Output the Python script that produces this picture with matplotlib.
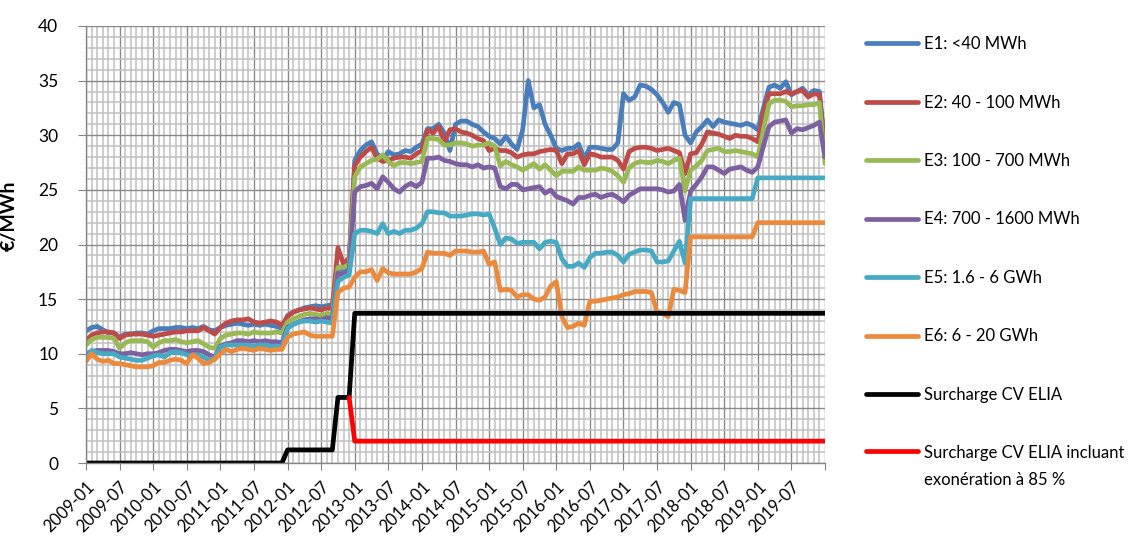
import numpy as np
import matplotlib
matplotlib.use("Agg")
import matplotlib.pyplot as plt
from matplotlib.ticker import MultipleLocator, FixedLocator
from matplotlib.legend_handler import HandlerLine2D

plt.rcParams['font.family'] = ['Lato', 'DejaVu Sans']

# ---- data (monthly, 2009-01 .. 2020-01) ----
tick_labels = ['2009-01', '2009-07', '2010-01', '2010-07', '2011-01', '2011-07',
               '2012-01', '2012-07', '2013-01', '2013-07', '2014-01', '2014-07',
               '2015-01', '2015-07', '2016-01', '2016-07', '2017-01', '2017-07',
               '2018-01', '2018-07', '2019-01', '2019-07', '']

e1 = [12.1, 12.4, 12.5, 12.2, 11.9, 11.9, 11.5, 11.8, 11.8, 11.9, 11.9, 11.8,
      12.1, 12.3, 12.3, 12.3, 12.4, 12.4, 12.3, 12.4, 12.3, 12.5, 12.2, 12.1,
      12.4, 12.6, 12.7, 12.8, 12.7, 12.6, 12.7, 12.6, 12.7, 12.6, 12.5, 12.3,
      13.5, 13.8, 14.0, 14.2, 14.3, 14.4, 14.3, 14.4, 14.5, 18.0, 17.6, 18.3,
      27.7, 28.6, 29.1, 29.4, 28.3, 27.8, 28.5, 28.2, 28.3, 28.6, 28.5, 28.9, 29.2,
      30.6, 30.6, 31.0, 30.2, 28.6, 31.0, 31.3, 31.3, 31.0, 30.8, 30.3, 29.9,
      29.7, 29.2, 29.9, 29.2, 28.7, 30.5, 35.0, 32.5, 32.8, 31.0, 30.0, 28.8,
      28.6, 28.8, 28.8, 29.2, 27.8, 28.9, 28.9, 28.8, 28.7, 28.7, 29.3, 33.8,
      33.2, 33.5, 34.6, 34.5, 34.2, 33.7, 33.0, 32.1, 33.0, 32.8, 30.0, 29.3,
      30.3, 30.8, 31.4, 30.8, 31.4, 31.2, 31.1, 31.0, 30.9, 31.1, 30.9, 30.5,
      32.5, 34.4, 34.6, 34.3, 34.9, 33.7, 34.0, 34.3, 33.7, 34.1, 34.0, 29.0]

e2 = [11.2, 11.7, 11.9, 12.0, 12.0, 11.9, 11.4, 11.7, 11.8, 11.8, 11.8, 11.7,
      11.6, 11.7, 11.8, 11.9, 12.0, 12.0, 12.1, 12.1, 12.1, 12.4, 12.1, 11.8,
      12.4, 12.8, 13.0, 13.1, 13.1, 13.2, 12.9, 12.8, 12.9, 13.0, 12.9, 12.6,
      13.4, 13.8, 14.0, 14.1, 14.2, 14.1, 14.0, 14.2, 14.1, 19.7, 18.2, 18.8,
      27.2, 28.0, 28.5, 28.9, 27.9, 27.6, 27.7, 27.9, 28.0, 28.0, 27.9, 28.3, 28.6,
      30.5, 30.2, 30.8, 29.4, 30.5, 30.6, 30.3, 30.2, 30.0, 29.7, 29.5, 28.6,
      28.8, 28.6, 28.6, 28.4, 28.0, 28.2, 28.3, 28.3, 28.5, 28.6, 28.7, 28.6,
      27.4, 28.3, 28.3, 28.6, 27.3, 28.3, 28.2, 28.0, 28.0, 28.0, 27.7, 26.9,
      28.5, 28.8, 28.9, 28.9, 28.8, 28.6, 28.7, 28.8, 28.6, 28.4, 26.5, 28.3,
      28.4, 29.2, 30.3, 30.2, 30.1, 29.9, 29.7, 30.0, 29.9, 29.9, 29.7, 29.4,
      32.0, 33.8, 33.8, 33.8, 34.0, 33.8, 34.0, 34.1, 33.5, 33.8, 33.7, 28.6]

e3 = [10.8, 11.3, 11.5, 11.5, 11.5, 11.4, 10.5, 11.0, 11.2, 11.2, 11.2, 11.1,
      10.6, 11.0, 11.2, 11.2, 11.3, 11.1, 11.0, 11.1, 11.2, 10.9, 10.6, 10.5,
      11.4, 11.7, 11.8, 11.9, 11.9, 11.8, 12.0, 11.9, 11.9, 11.9, 12.0, 11.9,
      12.9, 13.2, 13.4, 13.6, 13.7, 13.6, 13.5, 13.7, 13.6, 17.9, 17.9, 18.2,
      26.2, 27.1, 27.4, 27.7, 27.8, 28.2, 27.6, 27.2, 27.5, 27.5, 27.4, 27.5, 27.6,
      29.7, 29.7, 29.6, 29.1, 29.1, 29.3, 29.3, 29.2, 29.0, 29.1, 29.1, 29.3,
      29.0, 27.2, 27.6, 27.3, 27.1, 26.8, 27.1, 27.4, 26.9, 27.3, 26.8, 26.3,
      26.7, 26.7, 26.7, 27.1, 26.8, 26.8, 26.8, 27.0, 26.9, 26.7, 26.3, 25.7,
      27.0, 27.4, 27.6, 27.5, 27.5, 27.7, 27.6, 27.4, 27.7, 27.9, 24.9, 26.8,
      27.2, 27.7, 28.6, 28.7, 28.8, 28.5, 28.5, 28.6, 28.5, 28.4, 28.3, 28.0,
      30.5, 32.9, 33.2, 33.2, 33.1, 32.6, 32.7, 32.7, 32.8, 32.8, 33.0, 27.4]

e4 = [10.0, 10.2, 10.3, 10.3, 10.3, 10.2, 10.0, 10.0, 10.1, 10.0, 9.9, 10.0,
      10.0, 10.1, 10.3, 10.4, 10.4, 10.3, 10.2, 10.3, 10.3, 10.2, 9.9, 9.7,
      10.7, 10.9, 11.0, 11.2, 11.2, 11.1, 11.2, 11.1, 11.2, 11.1, 11.1, 11.0,
      12.4, 12.7, 12.9, 13.1, 13.2, 13.2, 13.1, 13.3, 13.2, 17.4, 17.2, 17.6,
      24.8, 25.3, 25.4, 25.6, 25.1, 26.2, 25.7, 25.1, 24.8, 25.3, 25.6, 25.3, 25.7,
      27.9, 27.9, 28.0, 27.7, 27.6, 27.4, 27.3, 27.3, 27.1, 27.3, 27.0, 27.1,
      27.0, 25.3, 25.1, 25.5, 25.5, 25.0, 25.1, 25.2, 25.3, 24.7, 25.0, 24.4,
      24.2, 24.0, 23.7, 24.3, 24.3, 24.5, 24.6, 24.3, 24.5, 24.6, 24.3, 23.9,
      24.5, 24.8, 25.1, 25.1, 25.1, 25.1, 25.0, 24.8, 24.9, 25.5, 22.2, 24.9,
      25.5, 26.2, 27.1, 27.1, 26.8, 26.5, 26.9, 27.0, 27.1, 26.8, 26.6, 27.1,
      29.0, 30.8, 31.2, 31.3, 31.4, 30.2, 30.6, 30.5, 30.7, 30.9, 31.2, 28.0]

e5 = [9.4, 10.3, 10.1, 10.0, 10.0, 10.0, 9.7, 9.6, 9.5, 9.4, 9.4, 9.6,
      9.8, 9.9, 9.7, 10.1, 10.2, 10.1, 9.9, 9.8, 9.9, 9.7, 9.4, 9.6,
      10.6, 10.8, 10.8, 10.8, 10.8, 10.8, 10.7, 10.8, 10.8, 10.7, 10.7, 10.6,
      12.3, 12.7, 12.9, 13.0, 13.0, 12.9, 13.0, 12.9, 12.8, 16.6, 17.0, 17.2,
      21.0, 21.3, 21.3, 21.2, 21.0, 21.9, 21.0, 21.2, 21.0, 21.3, 21.3, 21.5, 21.9,
      23.0, 23.0, 22.9, 22.9, 22.6, 22.6, 22.6, 22.7, 22.8, 22.8, 22.7, 22.8,
      21.5, 20.0, 20.6, 20.5, 20.1, 20.2, 20.2, 20.2, 19.6, 20.2, 20.3, 20.2,
      18.7, 18.0, 18.0, 18.3, 17.9, 18.8, 19.2, 19.2, 19.3, 19.3, 19.0, 18.4,
      19.1, 19.3, 19.5, 19.5, 19.4, 18.4, 18.4, 18.5, 19.4, 20.3, 18.3, 24.2,
      24.2, 24.2, 24.2, 24.2, 24.2, 24.2, 24.2, 24.2, 24.2, 24.2, 24.2, 26.1,
      26.1, 26.1, 26.1, 26.1, 26.1, 26.1, 26.1, 26.1, 26.1, 26.1, 26.1, 26.1]

e6 = [9.3, 10.0, 9.5, 9.3, 9.4, 9.1, 9.1, 9.0, 8.9, 8.8, 8.8, 8.8,
      8.9, 9.2, 9.2, 9.4, 9.5, 9.4, 9.1, 9.9, 9.6, 9.1, 9.2, 9.5,
      10.0, 10.4, 10.2, 10.4, 10.5, 10.4, 10.3, 10.5, 10.4, 10.3, 10.4, 10.4,
      11.5, 11.8, 11.9, 12.0, 11.7, 11.6, 11.6, 11.6, 11.6, 15.6, 16.0, 16.1,
      17.0, 17.5, 17.5, 17.7, 16.7, 17.8, 17.4, 17.3, 17.3, 17.3, 17.3, 17.5, 17.8,
      19.3, 19.2, 19.2, 19.2, 19.0, 19.4, 19.4, 19.4, 19.3, 19.3, 19.4, 18.2,
      18.4, 15.8, 15.9, 15.8, 15.2, 15.4, 15.4, 15.0, 14.9, 15.2, 16.2, 16.6,
      13.4, 12.4, 12.5, 12.8, 12.6, 14.8, 14.8, 14.9, 15.0, 15.1, 15.2, 15.4,
      15.5, 15.7, 15.7, 15.7, 15.6, 13.8, 13.7, 13.4, 15.9, 15.8, 15.6, 20.7,
      20.7, 20.7, 20.7, 20.7, 20.7, 20.7, 20.7, 20.7, 20.7, 20.7, 20.7, 22.0,
      22.0, 22.0, 22.0, 22.0, 22.0, 22.0, 22.0, 22.0, 22.0, 22.0, 22.0, 22.0]

cv_elia = [0.0] * 36 + [1.2] * 9 + [6.0] * 3 + [13.7] * 85
cv_elia_exo = [np.nan] * 47 + [6.0] + [2.0] * 85

labels = ['E1: <40 MWh', 'E2: 40 - 100 MWh', 'E3: 100 - 700 MWh',
          'E4: 700 - 1600 MWh', 'E5: 1.6 - 6 GWh', 'E6: 6 - 20 GWh',
          'Surcharge CV ELIA', 'Surcharge CV ELIA incluant\nexonération à 85 %']
colors = ['#4A7EBB', '#BE4B48', '#98B954', '#7D60A0', '#46AAC5', '#EB8A3C',
          '#000000', '#FF0000']
series = [e1, e2, e3, e4, e5, e6, cv_elia, cv_elia_exo]

# ---- figure ----
W, H = 1143, 545
fig = plt.figure(figsize=(W / 100, H / 100), dpi=100)
ax = fig.add_axes([86 / W, 1 - 463 / H, (825 - 86) / W, (463 - 26) / H])

x = np.arange(len(e1))
lines = []
for s, c, lab in zip(series, colors, labels):
    ln, = ax.plot(x, s, color=c, lw=3.4, label=lab,
                  solid_joinstyle='round', solid_capstyle='round')
    lines.append(ln)

ax.set_xlim(0, len(e1) - 1)
ax.set_ylim(0, 40)
ax.xaxis.set_major_locator(FixedLocator(list(range(0, len(e1), 6))))
ax.set_xticklabels(tick_labels, rotation=45, ha='right', va='top',
                   rotation_mode='anchor', fontsize=12)
ax.xaxis.set_minor_locator(MultipleLocator(1))
ax.yaxis.set_major_locator(MultipleLocator(5))
ax.yaxis.set_minor_locator(MultipleLocator(1))
ax.tick_params(axis='y', which='major', labelsize=12.5, length=6,
               color='#868686', pad=14)
ax.tick_params(axis='x', which='major', length=5, color='#868686', pad=6)
ax.tick_params(which='minor', length=0)

ax.set_axisbelow(True)
ax.grid(which='minor', color='#C0C0C0', lw=1.1)
ax.grid(which='major', color='#8A8A8A', lw=1.0)
for side in ['top', 'right']:
    ax.spines[side].set_visible(False)
for side in ['left', 'bottom']:
    ax.spines[side].set_color('#868686')
    ax.spines[side].set_linewidth(1.0)

ax.set_ylabel('€/MWh', fontsize=14, fontweight='bold')
ax.yaxis.set_label_coords((18 - 86) / (825 - 86), (463 - 216) / (463 - 26))


class FirstLineHandler(HandlerLine2D):
    def __init__(self, shift, **kw):
        super().__init__(**kw)
        self.shift = shift

    def create_artists(self, legend, orig_handle, xdescent, ydescent,
                       width, height, fontsize, trans):
        arts = super().create_artists(legend, orig_handle, xdescent, ydescent,
                                      width, height, fontsize, trans)
        for a in arts:
            yd = a.get_ydata()
            a.set_ydata([v + self.shift for v in yd])
        return arts


leg = fig.legend(handles=lines, labels=labels, loc='upper left',
                 bbox_to_anchor=(866 / W, 1 - 36 / H), frameon=False,
                 fontsize=12, handlelength=3.1, handletextpad=0.35,
                 labelspacing=2.55, borderpad=0, borderaxespad=0,
                 handler_map={lines[-1]: FirstLineHandler(shift=11.5)})
for ln in leg.get_lines():
    ln.set_linewidth(3.4)
leg.get_texts()[-1].set_linespacing(1.78)

fig.savefig('out.png', dpi=100, facecolor='white')
